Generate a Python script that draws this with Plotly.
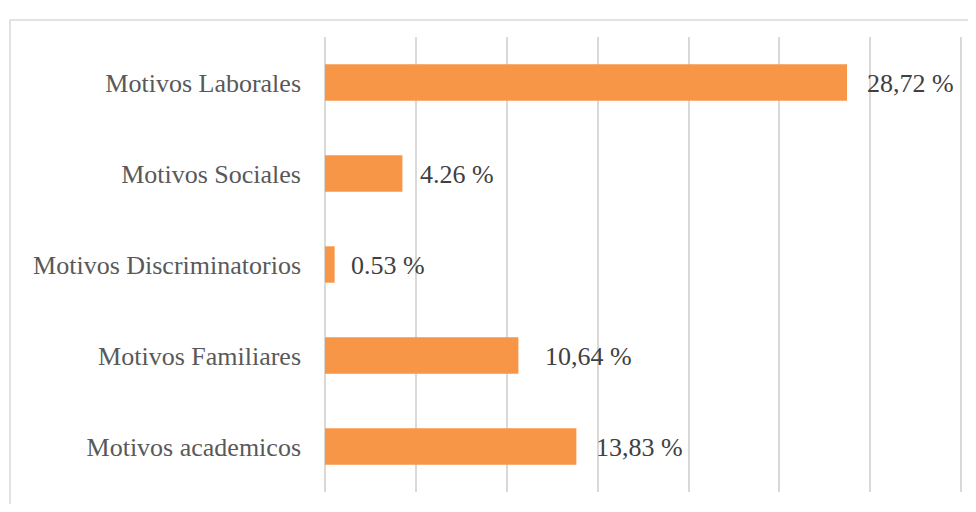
import plotly.graph_objects as go

categories = ["Motivos academicos", "Motivos Familiares", "Motivos Discriminatorios",
              "Motivos Sociales", "Motivos Laborales"]
values = [13.83, 10.64, 0.53, 4.26, 28.72]
value_labels = ["13,83 %", "10,64 %", "0.53 %", "4.26 %", "28,72 %"]
label_shift = [18, 25, 14, 16, 18]
x_max = 35.1

# page body has an 8px margin; size the figure so it fits and shift margins
# so the plot lands where the reference has it
OFF = 8
W, H = 976 - 2 * OFF, 512 - 2 * OFF
L, R, T, B = 325 - OFF, W - (963 - OFF), 37 - OFF, H - (492 - OFF)
pw, ph = W - L - R, H - T - B

fig = go.Figure()
fig.add_trace(go.Bar(
    x=values, y=categories, orientation="h",
    marker=dict(color="#F79646", line=dict(width=0)),
    hoverinfo="skip",
))

for c, v, t, s in zip(categories, values, value_labels, label_shift):
    fig.add_annotation(x=v, y=c, text=t, showarrow=False, xanchor="left",
                       xshift=s, yshift=-1,
                       font=dict(family="Liberation Serif", size=26, color="#404040"))

# chart border (left and top edges visible)
bx = (10 - OFF - L) / pw
by = 1 + (T - (20 - OFF)) / ph
fig.add_shape(type="rect", xref="paper", yref="paper", x0=bx, x1=1 + (R + 50) / pw,
              y0=-(B + 50) / ph, y1=by, line=dict(color="#D9D9D9", width=1.5),
              fillcolor="rgba(0,0,0,0)", layer="below")

fig.update_layout(
    width=W, height=H,
    margin=dict(l=L, r=R, t=T, b=B),
    paper_bgcolor="white", plot_bgcolor="white",
    showlegend=False, bargap=0.6,
    xaxis=dict(range=[0, x_max], tick0=0, dtick=5, showgrid=True, gridcolor="#D9D9D9",
               gridwidth=1.5, zeroline=True, zerolinecolor="#D9D9D9", zerolinewidth=1.5,
               showticklabels=False, showline=False, fixedrange=True),
    yaxis=dict(categoryorder="array", categoryarray=categories, showgrid=False,
               showline=False, zeroline=False, ticks="", ticklabelstandoff=23,
               tickfont=dict(family="Liberation Serif", size=26, color="#595959"),
               fixedrange=True),
)

fig.write_html("out.html")
